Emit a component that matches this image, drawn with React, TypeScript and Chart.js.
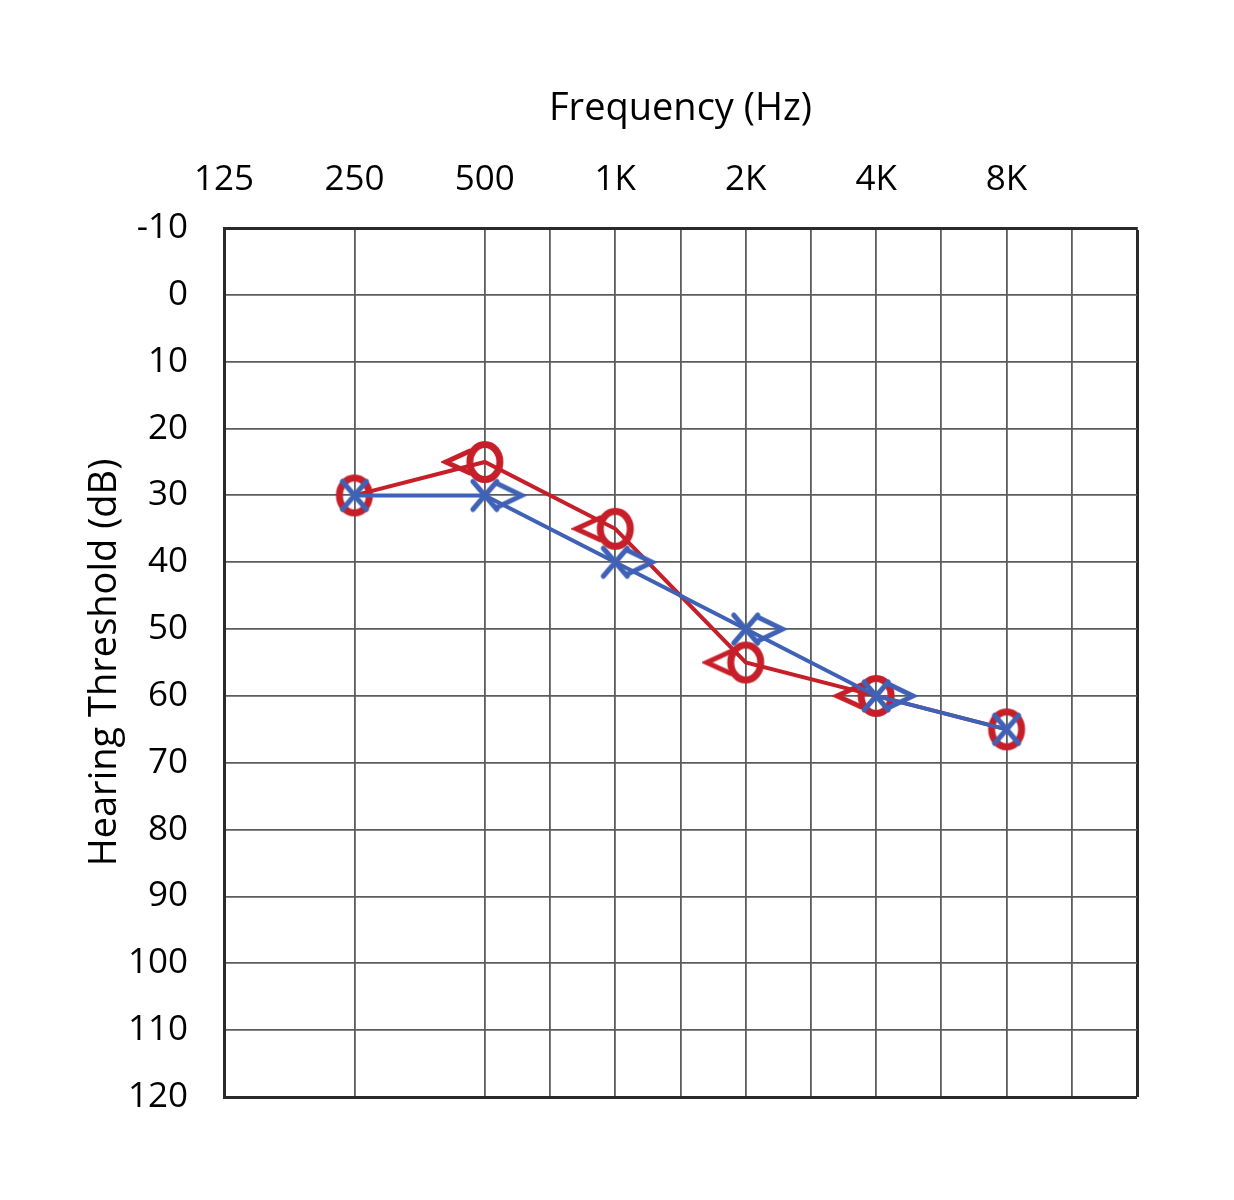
import React, { useEffect, useRef } from "react";
import { Chart, registerables } from "chart.js";

Chart.register(...registerables);

// audiogram values (dB HL) per test frequency
const freqLabels = ["125", "250", "500", "1K", "2K", "4K", "8K"];
const rightAir = [null, 30, 25, 35, 55, 60, 65];
const rightBone = [null, null, 25, 35, 55, 60, null];
const leftAir = [null, 30, 30, 40, 50, 60, 65];
const leftBone = [null, null, 30, 40, 50, 60, null];

// grid lines in octaves from 125 Hz (half-octave lines above 500 Hz)
const gridOctaves = [0, 1, 2, 2.5, 3, 3.5, 4, 4.5, 5, 5.5, 6, 6.5, 7];

const RED = "#c61f29";
const BLUE = "#3f62b6";
const FONT = "'Open Sans', 'DejaVu Sans', sans-serif";

function toPoints(values: (number | null)[]) {
  return values
    .map((v, i) => ({ x: i, y: v }))
    .filter((p) => p.y !== null) as { x: number; y: number }[];
}

function makeMarker(w: number, h: number, draw: (g: CanvasRenderingContext2D) => void) {
  const c = document.createElement("canvas");
  c.width = w;
  c.height = h;
  const g = c.getContext("2d")!;
  g.lineCap = "round";
  g.lineJoin = "miter";
  draw(g);
  return c;
}

export default function App() {
  const chartRef = useRef<HTMLCanvasElement>(null);

  useEffect(() => {
    document.body.style.margin = "0";
    const ctx = chartRef.current?.getContext("2d");
    if (!ctx) return;

    const circle = makeMarker(48, 52, (g) => {
      g.strokeStyle = RED;
      g.lineWidth = 7;
      g.beginPath();
      g.ellipse(24, 26, 15, 17.5, 0, 0, Math.PI * 2);
      g.stroke();
    });
    const cross = makeMarker(38, 42, (g) => {
      g.strokeStyle = BLUE;
      g.lineWidth = 5;
      g.beginPath();
      g.moveTo(7, 7);
      g.lineTo(31, 35);
      g.moveTo(31, 7);
      g.lineTo(7, 35);
      g.stroke();
    });
    const lessThan = makeMarker(88, 34, (g) => {
      g.strokeStyle = RED;
      g.lineWidth = 5;
      g.beginPath();
      g.moveTo(44 - 15, 17 - 11);
      g.lineTo(44 - 39, 17);
      g.lineTo(44 - 15, 17 + 11);
      g.stroke();
    });
    const greaterThan = makeMarker(84, 34, (g) => {
      g.strokeStyle = BLUE;
      g.lineWidth = 5;
      g.beginPath();
      g.moveTo(42 + 12, 17 - 12);
      g.lineTo(42 + 37, 17);
      g.lineTo(42 + 12, 17 + 12);
      g.stroke();
    });

    const chart = new Chart(ctx, {
      type: "scatter",
      data: {
        datasets: [
          {
            label: "Left air",
            data: toPoints(leftAir),
            showLine: true,
            borderColor: BLUE,
            borderWidth: 4,
            pointStyle: cross,
            pointRadius: 10,
          },
          {
            label: "Left bone",
            data: toPoints(leftBone),
            showLine: false,
            pointStyle: greaterThan,
            pointRadius: 10,
          },
          {
            label: "Right air",
            data: toPoints(rightAir),
            showLine: true,
            borderColor: RED,
            borderWidth: 4,
            pointStyle: circle,
            pointRadius: 10,
          },
          {
            label: "Right bone",
            data: toPoints(rightBone),
            showLine: false,
            pointStyle: lessThan,
            pointRadius: 10,
          },
        ],
      },
      options: {
        responsive: false,
        animation: false,
        devicePixelRatio: 1,
        layout: { padding: { left: 80, top: 60, right: 97, bottom: 103 } },
        plugins: { legend: { display: false }, tooltip: { enabled: false } },
        scales: {
          x: {
            type: "linear",
            position: "top",
            min: 0,
            max: 7,
            afterBuildTicks: (scale) => {
              scale.ticks = gridOctaves.map((v) => ({ value: v }));
            },
            afterFit: (scale) => {
              scale.height = 168;
            },
            ticks: {
              autoSkip: false,
              maxRotation: 0,
              padding: 27,
              color: "#000",
              font: { family: FONT, size: 35 },
              callback: (v) => {
                const n = Number(v);
                return Number.isInteger(n) && n < freqLabels.length ? freqLabels[n] : "";
              },
            },
            grid: {
              drawTicks: false,
              color: (c) => (c.tick && c.tick.value === 7 ? "#2a2a2a" : "#5c5c5c"),
              lineWidth: (c) => (c.tick && c.tick.value === 7 ? 3 : 1.8),
            },
            border: { display: true, color: "#2a2a2a", width: 3 },
            title: {
              display: true,
              text: "Frequency (Hz)",
              color: "#000",
              font: { family: FONT, size: 38 },
              padding: { top: 26, bottom: 0 },
            },
          },
          y: {
            type: "linear",
            reverse: true,
            min: -10,
            max: 120,
            afterFit: (scale) => {
              scale.width = 144;
            },
            ticks: {
              stepSize: 10,
              padding: 36,
              color: "#000",
              font: { family: FONT, size: 35 },
            },
            grid: {
              drawTicks: false,
              color: (c) => (c.tick && c.tick.value === 120 ? "#2a2a2a" : "#5c5c5c"),
              lineWidth: (c) => (c.tick && c.tick.value === 120 ? 3 : 1.8),
            },
            border: { display: true, color: "#2a2a2a", width: 3 },
            title: {
              display: true,
              text: "Hearing Threshold (dB)",
              color: "#000",
              font: { family: FONT, size: 38 },
              padding: { top: 2, bottom: 0 },
            },
          },
        },
      },
    });

    return () => chart.destroy();
  }, []);

  return (
    <div style={{ width: 1234, height: 1200 }}>
      <canvas ref={chartRef} width={1234} height={1200} style={{ display: "block" }}></canvas>
    </div>
  );
}
